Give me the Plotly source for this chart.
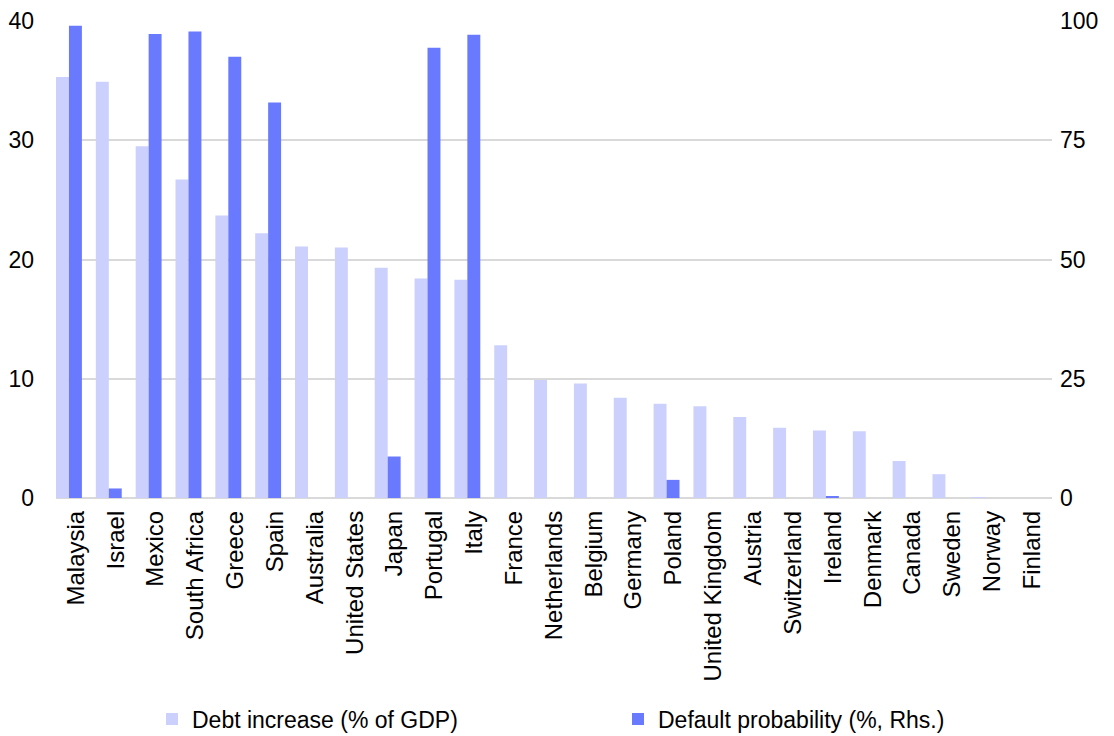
import plotly.graph_objects as go

countries = ["Malaysia", "Israel", "Mexico", "South Africa", "Greece", "Spain",
             "Australia", "United States", "Japan", "Portugal", "Italy", "France",
             "Netherlands", "Belgium", "Germany", "Poland", "United Kingdom",
             "Austria", "Switzerland", "Ireland", "Denmark", "Canada", "Sweden",
             "Norway", "Finland"]
debt_increase = [35.3, 34.9, 29.5, 26.7, 23.7, 22.2, 21.1, 21.0, 19.3, 18.4, 18.3,
                 12.8, 9.9, 9.6, 8.4, 7.9, 7.7, 6.8, 5.9, 5.65, 5.6, 3.1, 2.0,
                 0.05, -0.2]
default_prob = [99.0, 2.0, 97.3, 97.8, 92.5, 82.9, 0, 0, 8.7, 94.4, 97.1,
                0, 0, 0, 0, 3.8, 0, 0, 0, 0.3, 0, 0, 0, 0, 0]
left_ticks = [0, 10, 20, 30, 40]
right_ticks = [0, 25, 50, 75, 100]

LIGHT = "#cbd1fc"
DARK = "#6a7aff"
FONT = "Liberation Sans, Arial, sans-serif"

idx = list(range(len(countries)))

fig = go.Figure()
fig.add_trace(go.Bar(
    x=idx, y=debt_increase, name="Debt increase (% of GDP)",
    marker=dict(color=LIGHT, line=dict(width=0)),
    offset=-0.5, width=0.325, yaxis="y",
))
fig.add_trace(go.Bar(
    x=idx, y=default_prob, name="Default probability (%, Rhs.)",
    marker=dict(color=DARK, line=dict(width=0)),
    offset=-0.175, width=0.325, yaxis="y2",
))

fig.update_layout(
    width=1114, height=736,
    margin=dict(l=56, r=62, t=21, b=238, autoexpand=False),
    paper_bgcolor="white", plot_bgcolor="white",
    font=dict(family=FONT, size=22, color="#000000"),
    barmode="overlay",
    showlegend=True,
    legend=dict(
        orientation="h", xref="container", x=152 / 1114, xanchor="left",
        yref="container", y=(736 - 719) / 736, yanchor="middle",
        font=dict(size=23, family=FONT),
        entrywidth=421, entrywidthmode="pixels",
        bgcolor="rgba(0,0,0,0)",
    ),
    xaxis=dict(
        range=[-0.5, len(countries) - 0.5], automargin=False,
        tickmode="array", tickvals=idx, ticktext=countries,
        tickangle=-90, showgrid=False, zeroline=False, showline=False,
        ticks="", ticklabelstandoff=7,
        tickfont=dict(size=24, family=FONT),
    ),
    yaxis=dict(
        range=[0, 40], tickmode="array", tickvals=left_ticks, automargin=False,
        showgrid=True, gridcolor="#d9d9d9", gridwidth=1.5,
        zeroline=True, zerolinecolor="#d9d9d9", zerolinewidth=1.5,
        showline=False, ticks="", ticklabelstandoff=21,
        tickfont=dict(size=23, family=FONT),
    ),
    yaxis2=dict(
        range=[0, 100], tickmode="array", tickvals=right_ticks, automargin=False,
        overlaying="y", side="right", showgrid=False, zeroline=False,
        showline=False, ticks="", ticklabelstandoff=7,
        tickfont=dict(size=23, family=FONT),
    ),
)

fig.write_html("out.html")
